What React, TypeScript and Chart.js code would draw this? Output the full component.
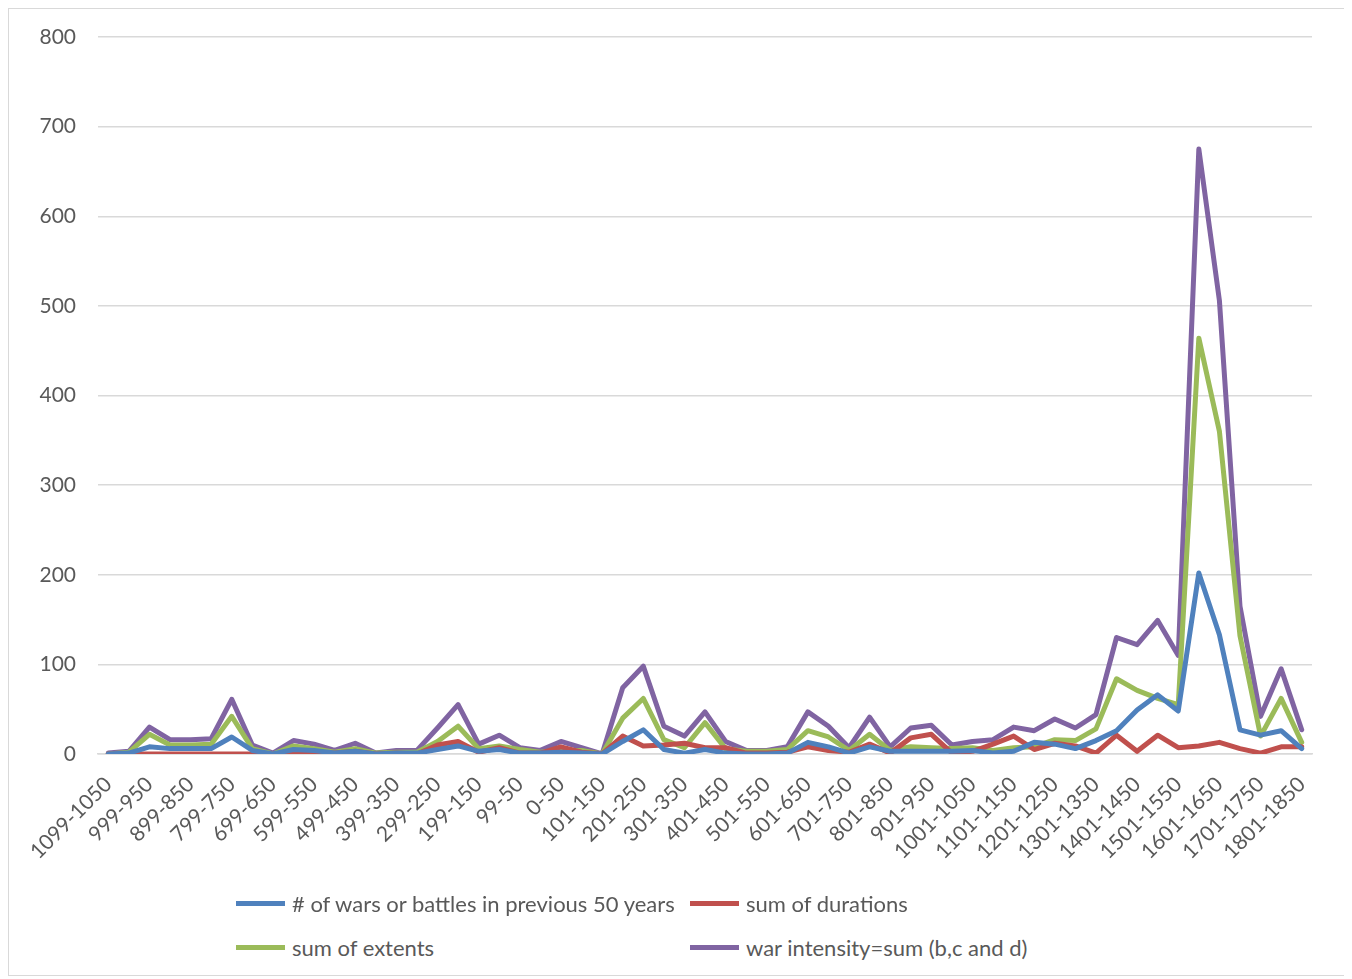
import React, { useEffect, useRef } from "react";
import { Chart, registerables } from "chart.js";

Chart.register(...registerables);

const categories = [
  "1099-1050", "1049-1000", "999-950", "949-900", "899-850", "849-800", "799-750", "749-700",
  "699-650", "649-600", "599-550", "549-500", "499-450", "449-400", "399-350", "349-300",
  "299-250", "249-200", "199-150", "149-100", "99-50", "49-0", "0-50", "51-100",
  "101-150", "151-200", "201-250", "251-300", "301-350", "351-400", "401-450", "451-500",
  "501-550", "551-600", "601-650", "651-700", "701-750", "751-800", "801-850", "851-900",
  "901-950", "951-1000", "1001-1050", "1051-1100", "1101-1150", "1151-1200", "1201-1250", "1251-1300",
  "1301-1350", "1351-1400", "1401-1450", "1451-1500", "1501-1550", "1551-1600", "1601-1650", "1651-1700",
  "1701-1750", "1751-1800", "1801-1850",
];

const warsCount = [
  0, 1, 8, 6, 6, 6, 19, 4, 0, 5, 4, 1, 3, 0, 1, 1,
  5, 9, 3, 5, 1, 1, 2, 1, 0, 14, 27, 5, 1, 5, 1, 0,
  0, 1, 13, 8, 1, 8, 3, 3, 3, 3, 4, 1, 3, 13, 11, 6,
  15, 26, 49, 66, 48, 202, 133, 27, 21, 26, 6,
];

const sumDurations = [
  0, 0, 0, 0, 0, 0, 0, 0, 0, 1, 1, 1, 3, 0, 1, 0,
  10, 14, 2, 7, 1, 1, 8, 2, 0, 20, 9, 10, 12, 7, 7, 1,
  1, 2, 8, 4, 2, 11, 1, 18, 22, 1, 3, 11, 20, 5, 12, 9,
  1, 21, 3, 21, 7, 9, 13, 6, 1, 8, 8,
];

const sumExtents = [
  0, 2, 22, 10, 10, 11, 42, 6, 0, 9, 6, 2, 6, 1, 2, 2,
  14, 31, 6, 9, 5, 2, 4, 4, 0, 40, 62, 16, 7, 35, 6, 3,
  3, 5, 26, 19, 4, 22, 4, 8, 7, 6, 7, 4, 7, 8, 16, 15,
  28, 84, 71, 62, 55, 464, 360, 132, 20, 62, 13,
];

const warIntensity = [
  1, 3, 30, 16, 16, 17, 61, 10, 1, 15, 11, 4, 12, 1, 4, 4,
  29, 55, 11, 21, 7, 4, 14, 7, 0, 74, 98, 31, 20, 47, 14, 4,
  4, 8, 47, 31, 7, 41, 8, 29, 32, 10, 14, 16, 30, 26, 39, 29,
  44, 130, 122, 149, 110, 675, 506, 165, 42, 95, 27,
];

const yTicks = [0, 100, 200, 300, 400, 500, 600, 700, 800];

const seriesNames = [
  "# of wars or battles in previous 50 years",
  "sum of durations",
  "sum of extents",
  "war intensity=sum (b,c and d)",
];
const seriesColors = ["#4F81BD", "#C0504D", "#9BBB59", "#8064A2"];

const FONT = "Lato, 'Open Sans', sans-serif";
const TEXT = "#595959";

export default function App() {
  const ref = useRef<HTMLCanvasElement | null>(null);

  useEffect(() => {
    if (!ref.current) return;
    const data = [warsCount, sumDurations, sumExtents, warIntensity];
    const chart = new Chart(ref.current, {
      type: "line",
      data: {
        labels: categories,
        datasets: data.map((d, i) => ({
          label: seriesNames[i],
          data: d,
          borderColor: seriesColors[i],
          backgroundColor: seriesColors[i],
          borderWidth: 5,
          pointRadius: 0,
          tension: 0,
          fill: false,
          borderJoinStyle: "round" as const,
          borderCapStyle: "round" as const,
        })),
      },
      options: {
        animation: false,
        responsive: false,
        devicePixelRatio: 1,
        layout: { padding: { top: 28, left: 0, right: 38, bottom: 0 } },
        plugins: {
          legend: { display: false },
          tooltip: { enabled: false },
        },
        scales: {
          x: {
            offset: true,
            grid: { display: false },
            border: { display: true, color: "#d9d9d9", width: 1.5 },
            ticks: {
              autoSkip: false,
              minRotation: 45,
              maxRotation: 45,
              padding: 10,
              color: TEXT,
              font: { family: FONT, size: 21 },
              callback: (_v: any, i: number) => (i % 2 === 0 ? categories[i] : ""),
            },
            afterFit: (s: any) => {
              s.height = 135;
              s.paddingLeft = 0;
              s.paddingRight = 0;
            },
          },
          y: {
            min: 0,
            max: 800,
            afterBuildTicks: (s: any) => {
              s.ticks = yTicks.map((v) => ({ value: v }));
            },
            grid: { color: "#d9d9d9", lineWidth: 1.5, drawTicks: false },
            border: { display: false },
            ticks: {
              padding: 22,
              color: TEXT,
              font: { family: FONT, size: 21 },
            },
            afterFit: (s: any) => {
              s.width = 89;
              s.paddingTop = 0;
              s.paddingBottom = 0;
            },
          },
        },
      },
    });
    return () => chart.destroy();
  }, []);

  const legendRows = [
    [0, 1],
    [2, 3],
  ];
  const rowY = [894, 938];
  const colX = [227, 681];

  return (
    <div
      style={{
        position: "relative",
        width: 1341,
        height: 966,
        border: "1px solid #d9d9d9",
        background: "#fff",
        fontFamily: FONT,
      }}
    >
      <canvas ref={ref} width={1341} height={880} style={{ display: "block" }} />
      {legendRows.map((row, r) =>
        row.map((si, c) => (
          <div
            key={si}
            style={{
              position: "absolute",
              left: colX[c],
              top: rowY[r] - 15,
              height: 30,
              display: "flex",
              alignItems: "center",
              whiteSpace: "nowrap",
            }}
          >
            <span
              style={{
                display: "inline-block",
                width: 49,
                height: 5,
                background: seriesColors[si],
                marginRight: 7,
              }}
            />
            <span style={{ color: TEXT, fontSize: 22 }}>{seriesNames[si]}</span>
          </div>
        ))
      )}
    </div>
  );
}
